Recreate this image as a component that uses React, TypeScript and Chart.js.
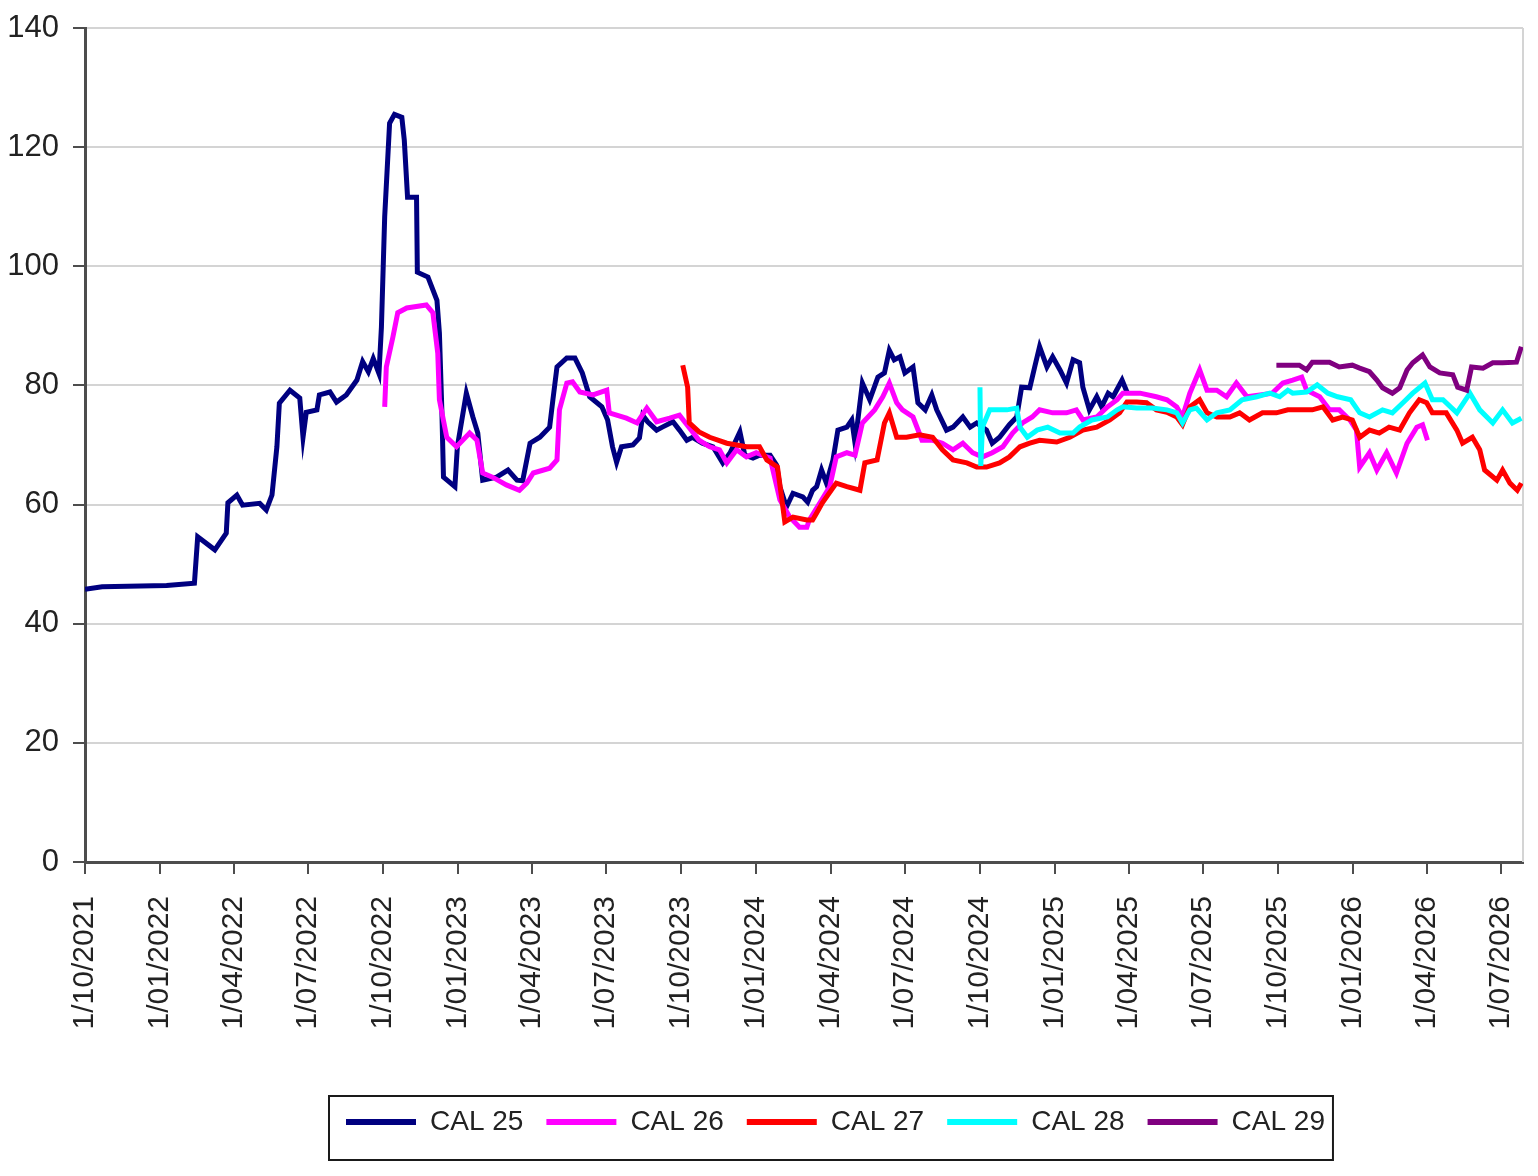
import { useEffect, useRef } from "react";
import Chart from "chart.js/auto";

const seriesNames = ["CAL 25", "CAL 26", "CAL 27", "CAL 28", "CAL 29"];

const tickDates = [
  "2021-10-01", "2022-01-01", "2022-04-01", "2022-07-01", "2022-10-01",
  "2023-01-01", "2023-04-01", "2023-07-01", "2023-10-01", "2024-01-01",
  "2024-04-01", "2024-07-01", "2024-10-01", "2025-01-01", "2025-04-01",
  "2025-07-01", "2025-10-01", "2026-01-01", "2026-04-01", "2026-07-01",
];
const startDate = "2021-10-01";
const endDate = "2026-07-28";

const cal25: [string, number][] = [
  ["2021-10-01", 45.8], ["2021-10-22", 46.2], ["2022-01-09", 46.4], ["2022-02-12", 46.8],
  ["2022-02-16", 54.6], ["2022-03-09", 52.4], ["2022-03-23", 55.2], ["2022-03-25", 60.3],
  ["2022-04-05", 61.6], ["2022-04-12", 59.9], ["2022-05-03", 60.2], ["2022-05-11", 59.1],
  ["2022-05-18", 61.6], ["2022-05-24", 69.7], ["2022-05-27", 77.0], ["2022-06-09", 79.2],
  ["2022-06-21", 77.9], ["2022-06-25", 71.3], ["2022-06-29", 75.5], ["2022-07-12", 75.9],
  ["2022-07-15", 78.4], ["2022-07-28", 78.9], ["2022-08-05", 77.2], ["2022-08-17", 78.4],
  ["2022-08-30", 80.9], ["2022-09-06", 84.0], ["2022-09-13", 82.3], ["2022-09-19", 84.5],
  ["2022-09-26", 82.0], ["2022-09-29", 89.8], ["2022-10-03", 108.3], ["2022-10-09", 124.0],
  ["2022-10-15", 125.5], ["2022-10-24", 125.0], ["2022-10-27", 121.2], ["2022-10-31", 111.6],
  ["2022-11-11", 111.6], ["2022-11-12", 99.0], ["2022-11-25", 98.2], ["2022-12-06", 94.3],
  ["2022-12-09", 88.8], ["2022-12-12", 75.9], ["2022-12-14", 64.6], ["2022-12-28", 63.0],
  ["2022-12-31", 69.7], ["2023-01-11", 78.7], ["2023-01-19", 74.7], ["2023-01-25", 72.0],
  ["2023-01-31", 64.1], ["2023-02-17", 64.6], ["2023-03-03", 65.8], ["2023-03-14", 64.1],
  ["2023-03-21", 64.0], ["2023-03-30", 70.3], ["2023-04-11", 71.3], ["2023-04-23", 73.0],
  ["2023-04-27", 77.6], ["2023-05-02", 83.1], ["2023-05-14", 84.6], ["2023-05-24", 84.6],
  ["2023-06-02", 82.1], ["2023-06-11", 78.1], ["2023-06-26", 76.4], ["2023-07-03", 74.2],
  ["2023-07-09", 69.7], ["2023-07-14", 67.1], ["2023-07-20", 69.7], ["2023-08-03", 70.0],
  ["2023-08-11", 71.2], ["2023-08-15", 75.0], ["2023-08-21", 73.9], ["2023-09-01", 72.5],
  ["2023-09-08", 73.0], ["2023-09-21", 73.9], ["2023-09-29", 72.5], ["2023-10-08", 70.8],
  ["2023-10-15", 71.3], ["2023-10-27", 70.3], ["2023-11-09", 69.7], ["2023-11-21", 67.0],
  ["2023-11-30", 68.7], ["2023-12-12", 72.2], ["2023-12-18", 68.3], ["2023-12-28", 67.8],
  ["2024-01-05", 68.3], ["2024-01-18", 68.3], ["2024-01-26", 66.6], ["2024-01-30", 63.0],
  ["2024-02-07", 59.6], ["2024-02-15", 61.9], ["2024-02-27", 61.3], ["2024-03-04", 60.4],
  ["2024-03-10", 62.4], ["2024-03-15", 63.0], ["2024-03-21", 65.8], ["2024-03-27", 63.6],
  ["2024-04-04", 67.5], ["2024-04-10", 72.5], ["2024-04-21", 73.0], ["2024-04-27", 74.2],
  ["2024-05-01", 70.3], ["2024-05-10", 80.4], ["2024-05-19", 77.6], ["2024-05-29", 81.4],
  ["2024-06-06", 82.1], ["2024-06-12", 85.9], ["2024-06-18", 84.3], ["2024-06-25", 84.8],
  ["2024-07-01", 82.1], ["2024-07-11", 83.1], ["2024-07-17", 77.1], ["2024-07-26", 75.9],
  ["2024-08-03", 78.4], ["2024-08-09", 75.9], ["2024-08-21", 72.5], ["2024-08-29", 73.0],
  ["2024-09-10", 74.7], ["2024-09-19", 73.0], ["2024-09-27", 73.7], ["2024-10-09", 72.5],
  ["2024-10-16", 70.3], ["2024-10-25", 71.3], ["2024-11-06", 73.4], ["2024-11-15", 74.7],
  ["2024-11-21", 79.7], ["2024-12-01", 79.6], ["2024-12-07", 83.1], ["2024-12-13", 86.5],
  ["2024-12-22", 83.1], ["2024-12-29", 84.8], ["2025-01-07", 82.6], ["2025-01-15", 80.4],
  ["2025-01-23", 84.3], ["2025-01-31", 83.8], ["2025-02-04", 79.7], ["2025-02-12", 75.9],
  ["2025-02-21", 78.1], ["2025-02-27", 76.4], ["2025-03-07", 78.7], ["2025-03-13", 78.1],
  ["2025-03-24", 80.9], ["2025-03-30", 78.9],
];

const cal26: [string, number][] = [
  ["2022-10-03", 76.4], ["2022-10-05", 83.1], ["2022-10-13", 88.1], ["2022-10-19", 92.2],
  ["2022-10-30", 93.0], ["2022-11-23", 93.5], ["2022-12-01", 92.2], ["2022-12-07", 85.4],
  ["2022-12-09", 77.6], ["2022-12-18", 71.3], ["2022-12-30", 69.7], ["2023-01-15", 72.0],
  ["2023-01-24", 70.8], ["2023-01-31", 65.3], ["2023-02-12", 64.6], ["2023-03-01", 63.3],
  ["2023-03-17", 62.4], ["2023-03-26", 63.6], ["2023-04-03", 65.3], ["2023-04-23", 66.1],
  ["2023-05-02", 67.5], ["2023-05-05", 75.9], ["2023-05-14", 80.4], ["2023-05-21", 80.6],
  ["2023-05-30", 78.9], ["2023-06-15", 78.4], ["2023-07-02", 79.2], ["2023-07-05", 75.4],
  ["2023-07-26", 74.5], ["2023-08-08", 73.7], ["2023-08-20", 76.2], ["2023-09-01", 73.9],
  ["2023-09-17", 74.5], ["2023-09-29", 75.0], ["2023-10-11", 72.9], ["2023-10-23", 70.8],
  ["2023-11-05", 69.7], ["2023-11-17", 69.2], ["2023-11-26", 67.0], ["2023-12-08", 69.2],
  ["2023-12-20", 68.0], ["2024-01-01", 68.7], ["2024-01-18", 67.8], ["2024-01-30", 60.8],
  ["2024-02-11", 57.9], ["2024-02-23", 56.2], ["2024-03-03", 56.2], ["2024-03-06", 57.4],
  ["2024-03-19", 60.3], ["2024-03-31", 63.0], ["2024-04-08", 68.0], ["2024-04-21", 68.7],
  ["2024-05-01", 68.3], ["2024-05-10", 73.7], ["2024-05-25", 75.9], ["2024-06-04", 78.1],
  ["2024-06-12", 80.4], ["2024-06-21", 77.1], ["2024-06-28", 75.9], ["2024-07-11", 74.7],
  ["2024-07-22", 70.8], ["2024-08-04", 70.8], ["2024-08-16", 70.3], ["2024-08-29", 69.2],
  ["2024-09-10", 70.3], ["2024-09-22", 68.7], ["2024-10-04", 68.0], ["2024-10-16", 68.7],
  ["2024-10-29", 69.7], ["2024-11-10", 72.0], ["2024-11-22", 73.7], ["2024-12-04", 74.7],
  ["2024-12-13", 75.9], ["2024-12-29", 75.4], ["2025-01-15", 75.4], ["2025-01-27", 75.9],
  ["2025-02-04", 74.2], ["2025-02-21", 74.7], ["2025-03-06", 76.4], ["2025-03-18", 77.6],
  ["2025-03-25", 78.7], ["2025-04-15", 78.7], ["2025-05-05", 78.1], ["2025-05-18", 77.6],
  ["2025-05-30", 76.4], ["2025-06-06", 74.7], ["2025-06-15", 78.7], ["2025-06-27", 82.6],
  ["2025-07-06", 79.2], ["2025-07-18", 79.2], ["2025-07-30", 78.1], ["2025-08-11", 80.4],
  ["2025-08-24", 78.1], ["2025-09-09", 78.4], ["2025-09-24", 78.7], ["2025-10-07", 80.4],
  ["2025-10-19", 80.9], ["2025-10-30", 81.4], ["2025-11-05", 79.2], ["2025-11-21", 78.1],
  ["2025-12-03", 75.9], ["2025-12-15", 75.9], ["2025-12-28", 74.2], ["2026-01-05", 72.5],
  ["2026-01-09", 66.3], ["2026-01-21", 68.7], ["2026-01-30", 65.8], ["2026-02-11", 68.7],
  ["2026-02-23", 65.3], ["2026-03-08", 70.3], ["2026-03-20", 73.0], ["2026-03-27", 73.4],
  ["2026-04-02", 70.8],
];

const cal27: [string, number][] = [
  ["2023-10-03", 83.4], ["2023-10-09", 79.7], ["2023-10-11", 73.7], ["2023-10-23", 72.2],
  ["2023-11-05", 71.3], ["2023-11-26", 70.3], ["2023-12-20", 69.7], ["2024-01-05", 69.7],
  ["2024-01-14", 67.5], ["2024-01-27", 66.3], ["2024-02-01", 61.3], ["2024-02-05", 57.1],
  ["2024-02-15", 57.9], ["2024-03-03", 57.4], ["2024-03-10", 57.4], ["2024-03-15", 58.6],
  ["2024-03-22", 60.3], ["2024-04-08", 63.6], ["2024-04-21", 63.0], ["2024-05-07", 62.4],
  ["2024-05-13", 67.0], ["2024-05-28", 67.5], ["2024-06-06", 73.7], ["2024-06-12", 75.4],
  ["2024-06-21", 71.3], ["2024-07-03", 71.3], ["2024-07-19", 71.7], ["2024-08-04", 71.3],
  ["2024-08-16", 69.2], ["2024-08-29", 67.5], ["2024-09-15", 67.0], ["2024-09-27", 66.3],
  ["2024-10-09", 66.3], ["2024-10-25", 67.0], ["2024-11-06", 68.0], ["2024-11-19", 69.7],
  ["2024-12-01", 70.3], ["2024-12-13", 70.8], ["2025-01-03", 70.5], ["2025-01-19", 71.3],
  ["2025-02-04", 72.5], ["2025-02-21", 73.0], ["2025-03-09", 74.2], ["2025-03-21", 75.4],
  ["2025-03-30", 77.2], ["2025-04-11", 77.2], ["2025-04-23", 77.1], ["2025-05-05", 75.9],
  ["2025-05-18", 75.5], ["2025-05-30", 74.7], ["2025-06-06", 73.4], ["2025-06-15", 76.4],
  ["2025-06-27", 77.6], ["2025-07-06", 75.4], ["2025-07-18", 74.7], ["2025-08-03", 74.7],
  ["2025-08-15", 75.4], ["2025-08-27", 74.2], ["2025-09-12", 75.4], ["2025-09-29", 75.4],
  ["2025-10-13", 75.9], ["2025-10-24", 75.9], ["2025-11-12", 75.9], ["2025-11-25", 76.4],
  ["2025-12-07", 74.2], ["2025-12-19", 74.7], ["2025-12-31", 74.2], ["2026-01-09", 71.3],
  ["2026-01-21", 72.5], ["2026-02-02", 72.0], ["2026-02-14", 73.0], ["2026-02-27", 72.5],
  ["2026-03-11", 75.4], ["2026-03-23", 77.6], ["2026-04-01", 77.1], ["2026-04-08", 75.4],
  ["2026-04-25", 75.4], ["2026-05-08", 72.5], ["2026-05-15", 70.3], ["2026-05-27", 71.3],
  ["2026-06-05", 69.2], ["2026-06-11", 65.8], ["2026-06-26", 64.1], ["2026-07-03", 65.8],
  ["2026-07-12", 63.6], ["2026-07-21", 62.4], ["2026-07-26", 63.6],
];

const cal28: [string, number][] = [
  ["2024-10-01", 79.7], ["2024-10-02", 66.5], ["2024-10-04", 73.0], ["2024-10-13", 75.9],
  ["2024-11-03", 75.9], ["2024-11-15", 76.2], ["2024-11-19", 73.0], ["2024-11-28", 71.3],
  ["2024-12-10", 72.5], ["2024-12-23", 73.0], ["2025-01-07", 72.0], ["2025-01-23", 72.0],
  ["2025-01-31", 73.0], ["2025-02-15", 74.2], ["2025-03-06", 74.7], ["2025-03-18", 75.9],
  ["2025-03-25", 76.4], ["2025-04-11", 76.2], ["2025-04-30", 76.2], ["2025-05-18", 75.9],
  ["2025-05-30", 75.4], ["2025-06-06", 73.7], ["2025-06-15", 75.9], ["2025-06-23", 76.2],
  ["2025-07-06", 74.2], ["2025-07-18", 75.4], ["2025-08-03", 75.9], ["2025-08-18", 77.6],
  ["2025-09-05", 78.1], ["2025-09-21", 78.7], ["2025-10-03", 78.1], ["2025-10-13", 79.2],
  ["2025-10-19", 78.7], ["2025-11-05", 78.9], ["2025-11-18", 80.1], ["2025-12-01", 78.7],
  ["2025-12-13", 78.1], ["2025-12-29", 77.6], ["2026-01-09", 75.4], ["2026-01-21", 74.7],
  ["2026-02-06", 75.9], ["2026-02-18", 75.4], ["2026-03-03", 77.1], ["2026-03-15", 78.7],
  ["2026-03-30", 80.4], ["2026-04-08", 77.6], ["2026-04-21", 77.6], ["2026-05-08", 75.4],
  ["2026-05-24", 78.7], ["2026-06-05", 75.9], ["2026-06-21", 73.7], ["2026-07-03", 75.9],
  ["2026-07-15", 73.7], ["2026-07-26", 74.5],
];

const cal29: [string, number][] = [
  ["2025-09-29", 83.4], ["2025-10-27", 83.4], ["2025-11-05", 82.6], ["2025-11-12", 83.9],
  ["2025-12-03", 83.9], ["2025-12-15", 83.1], ["2025-12-31", 83.4], ["2026-01-09", 82.9],
  ["2026-01-21", 82.3], ["2026-01-30", 80.9], ["2026-02-06", 79.6], ["2026-02-18", 78.7],
  ["2026-02-27", 79.6], ["2026-03-08", 82.6], ["2026-03-15", 83.8], ["2026-03-27", 85.1],
  ["2026-04-05", 83.1], ["2026-04-17", 82.1], ["2026-05-03", 81.8], ["2026-05-09", 79.7],
  ["2026-05-20", 79.2], ["2026-05-26", 83.1], ["2026-06-09", 82.9], ["2026-06-21", 83.8],
  ["2026-07-03", 83.8], ["2026-07-20", 83.9], ["2026-07-26", 86.5],
];

const seriesData = [cal25, cal26, cal27, cal28, cal29];
const seriesColors = ["#000080", "#ff00ff", "#ff0000", "#00ffff", "#800080"];

const DAY = 86400000;
const dayOf = (d: string) => (Date.parse(d) - Date.parse(startDate)) / DAY;

const formatTick = (v: number) => {
  const d = new Date(Date.parse(startDate) + v * DAY);
  const mm = String(d.getUTCMonth() + 1).padStart(2, "0");
  return `${d.getUTCDate()}/${mm}/${d.getUTCFullYear()}`;
};

const FONT = "'Liberation Sans', Arial, sans-serif";

// light right border of the plot and a framed legend box
const framePlugin = {
  id: "frame",
  afterLayout(chart: any) {
    const legend = chart.legend;
    if (!legend) return;
    const dx = 346 - legend.options.labels.padding - legend.left;
    legend.left += dx;
    legend.right += dx;
  },
  beforeDatasetsDraw(chart: any) {
    const { ctx, chartArea } = chart;
    ctx.save();
    ctx.strokeStyle = "#d4d4d4";
    ctx.lineWidth = 2;
    ctx.beginPath();
    ctx.moveTo(chartArea.right, chartArea.top);
    ctx.lineTo(chartArea.right, chartArea.bottom);
    ctx.stroke();
    ctx.restore();
  },
  afterDraw(chart: any) {
    const boxes = chart.legend?.legendHitBoxes;
    if (!boxes || !boxes.length) return;
    const { ctx } = chart;
    const left = Math.min(...boxes.map((b: any) => b.left)) - 17;
    const right = Math.max(...boxes.map((b: any) => b.left + b.width)) + 8;
    const mid = boxes[0].top + boxes[0].height / 2;
    ctx.save();
    ctx.strokeStyle = "#1a1a1a";
    ctx.lineWidth = 2;
    ctx.strokeRect(left, mid - 26, right - left, 64);
    ctx.restore();
  },
};

const PriceChart = () => {
  const canvasRef = useRef<HTMLCanvasElement>(null);

  useEffect(() => {
    if (!canvasRef.current) return;
    const chart = new Chart(canvasRef.current, {
      type: "line",
      data: {
        datasets: seriesNames.map((name, i) => ({
          label: name,
          data: seriesData[i].map(([d, v]) => ({ x: dayOf(d), y: v })),
          borderColor: seriesColors[i],
          backgroundColor: seriesColors[i],
          borderWidth: 5,
          pointRadius: 0,
          tension: 0,
          order: seriesNames.length - i,
        })),
      },
      options: {
        animation: false,
        responsive: true,
        maintainAspectRatio: false,
        layout: { padding: { top: 28, right: 15, bottom: 30, left: 0 } },
        plugins: {
          tooltip: { enabled: false },
          legend: {
            position: "bottom",
            align: "start",
            labels: {
              boxWidth: 70,
              boxHeight: 6,
              padding: 23,
              color: "#222",
              font: { family: FONT, size: 28 },
              sort: (a: any, b: any) => a.datasetIndex - b.datasetIndex,
              generateLabels: (c: any) =>
                Chart.defaults.plugins.legend.labels
                  .generateLabels(c)
                  .map((l: any) => ({ ...l, lineWidth: 0, fillStyle: l.strokeStyle })),
            },
          },
        },
        scales: {
          x: {
            type: "linear",
            min: 0,
            max: dayOf(endDate),
            afterFit: (s: any) => {
              s.height = 223;
              s.paddingLeft = 0;
              s.paddingRight = 0;
            },
            afterBuildTicks: (s: any) => {
              s.ticks = tickDates.map((d) => ({ value: dayOf(d) }));
            },
            ticks: {
              autoSkip: false,
              minRotation: 90,
              maxRotation: 90,
              padding: 22,
              color: "#222",
              font: { family: FONT, size: 30 },
              callback: (v: any) => formatTick(Number(v)),
            },
            grid: {
              drawOnChartArea: false,
              tickColor: "#4d4d4d",
              tickLength: 12,
              lineWidth: 2,
            },
            border: { color: "#4d4d4d", width: 3 },
          },
          y: {
            min: 0,
            max: 140,
            afterFit: (s: any) => {
              s.width = 85;
              s.paddingTop = 0;
              s.paddingBottom = 0;
            },
            ticks: {
              stepSize: 20,
              padding: 14,
              color: "#222",
              font: { family: FONT, size: 31 },
            },
            grid: {
              color: "#d4d4d4",
              lineWidth: 2,
              tickColor: "#4d4d4d",
              tickLength: 12,
            },
            border: { color: "#4d4d4d", width: 3 },
          },
        },
      },
      plugins: [framePlugin],
    });
    return () => chart.destroy();
  }, []);

  return <canvas ref={canvasRef} />;
};

export default function App() {
  return (
    <div style={{ position: "fixed", left: 0, top: 0, width: 1538, height: 1176, background: "#fff" }}>
      <PriceChart />
    </div>
  );
}
